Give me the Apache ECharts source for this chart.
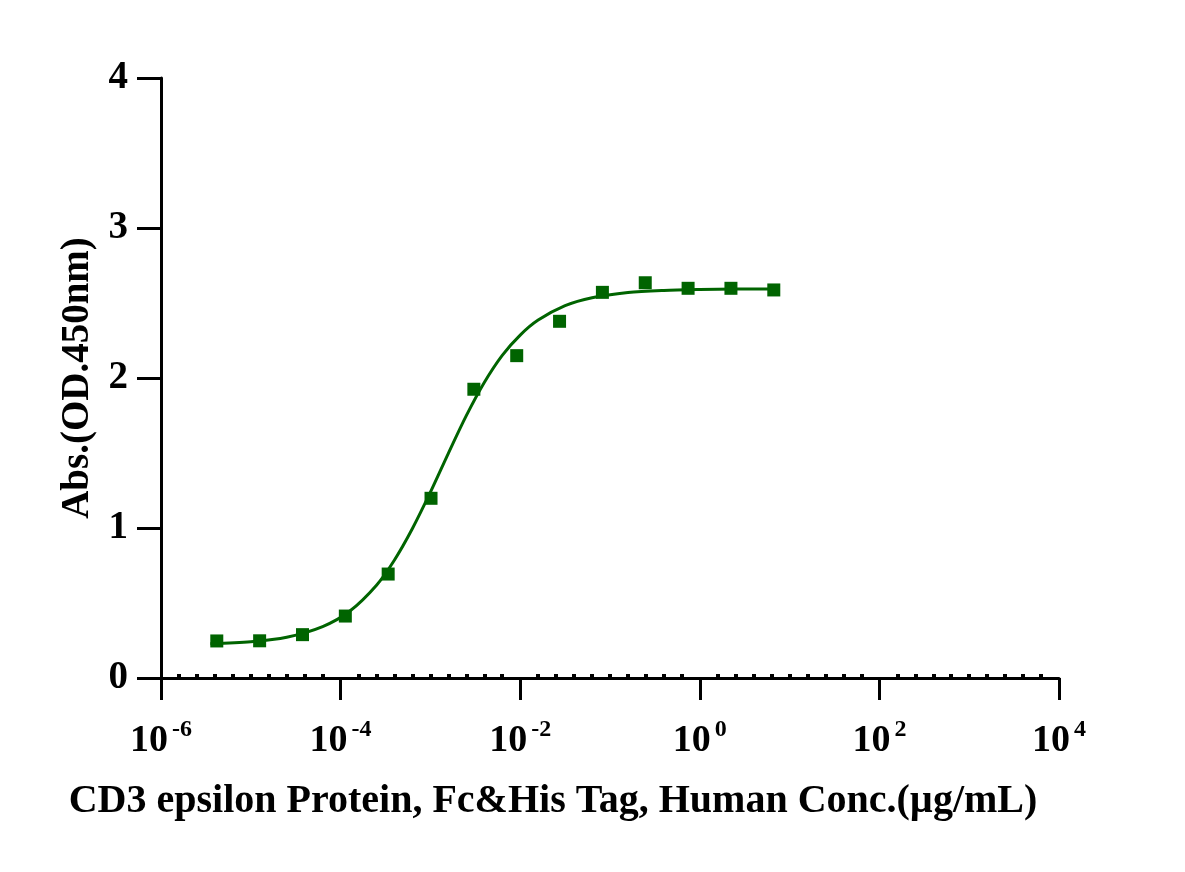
<!DOCTYPE html>
<html>
    <head>
        <meta charset="utf-8">
        <title>CD3 epsilon ELISA</title>
        <script src="https://cdn.jsdelivr.net/npm/echarts@6/dist/echarts.min.js"></script>
    </head>
    <body style="margin:0">
        <style>
            html, body, #main {
                width: 100%;
                height: 100%;
                background: #fff;
            }
        </style>
        <div id="main"></div>
        <script>
            // measured points: concentration (ug/mL) and OD450
            var conc = [4.181e-6, 1.254e-5, 3.763e-5, 1.129e-4, 3.387e-4, 1.016e-3, 3.048e-3,
                        9.145e-3, 2.743e-2, 8.230e-2, 0.2469, 0.7407, 2.222, 6.667];
            var od = [0.247, 0.248, 0.289, 0.413, 0.693, 1.198, 1.925,
                      2.149, 2.378, 2.571, 2.635, 2.598, 2.598, 2.587];

            // fitted curve, x in log10(ug/mL)
            var curveLog = [-5.45, -5.0, -4.6, -4.2, -3.9, -3.6, -3.4, -3.2, -3.0, -2.8, -2.6,
                            -2.4, -2.2, -2.0, -1.8, -1.5, -1.2, -0.8, -0.4, 0.0, 0.4, 0.88];
            var curveVal = [0.228, 0.242, 0.272, 0.343, 0.445, 0.619, 0.787, 0.997, 1.239, 1.498, 1.749,
                            1.970, 2.151, 2.286, 2.386, 2.482, 2.535, 2.570, 2.584, 2.590, 2.593, 2.594];

            var yTicks = [0, 1, 2, 3, 4];
            var xExponents = [-6, -4, -2, 0, 2, 4];

            var green = '#006400';
            var font = '"Liberation Serif", "Times New Roman", serif';

            var points = conc.map(function (c, i) { return [Math.log10(c), od[i]]; });
            var curve = curveLog.map(function (x, i) { return [x, curveVal[i]]; });

            var xMin = xExponents[0];
            var xMax = xExponents[xExponents.length - 1];

            var chart = echarts.init(document.getElementById('main'));

            chart.setOption({
                animation: false,
                grid: { left: 161, right: 126, top: 78, bottom: 194 },
                xAxis: [
                    {
                        type: 'value',
                        min: xMin,
                        max: xMax,
                        interval: 2,
                        splitLine: { show: false },
                        axisLine: { onZero: false, lineStyle: { color: '#000', width: 3 } },
                        axisTick: { length: 22, lineStyle: { color: '#000', width: 3 } },
                        axisLabel: {
                            margin: 40,
                            formatter: function (v) { return '{b|10}{s|' + v + '}'; },
                            rich: {
                                b: { fontFamily: font, fontWeight: 'bold', fontSize: 38, color: '#000' },
                                s: { fontFamily: font, fontWeight: 'bold', fontSize: 24, color: '#000',
                                     verticalAlign: 'top', padding: [0, 0, 22, 4] }
                            }
                        },
                        name: 'CD3 epsilon Protein, Fc&His Tag, Human Conc.(\u00b5g/mL)',
                        nameLocation: 'middle',
                        nameGap: 104,
                        nameTextStyle: { fontFamily: font, fontWeight: 'bold', fontSize: 40, color: '#000',
                                         padding: [0, 114, 0, 0] }
                    },
                    {
                        // only carries the small dot ticks sitting on the axis line
                        type: 'value',
                        position: 'bottom',
                        min: xMin,
                        max: xMax,
                        interval: 2,
                        splitLine: { show: false },
                        axisLine: { show: false, onZero: false },
                        axisTick: { show: false, inside: true },
                        axisLabel: { show: false },
                        minorTick: { show: true, splitNumber: 10, length: 4, lineStyle: { color: '#000', width: 4 } }
                    }
                ],
                yAxis: {
                    type: 'value',
                    min: yTicks[0],
                    max: yTicks[yTicks.length - 1],
                    interval: 1,
                    splitLine: { show: false },
                    axisLine: { show: true, onZero: false, lineStyle: { color: '#000', width: 3 } },
                    axisTick: { show: true, length: 24, lineStyle: { color: '#000', width: 3 } },
                    axisLabel: { margin: 33, fontFamily: font, fontWeight: 'bold', fontSize: 39, color: '#000' },
                    name: 'Abs.(OD.450nm)',
                    nameLocation: 'middle',
                    nameGap: 63,
                    nameTextStyle: { fontFamily: font, fontWeight: 'bold', fontSize: 39, color: '#000' }
                },
                series: [
                    {
                        type: 'line',
                        data: curve,
                        smooth: 0.3,
                        showSymbol: false,
                        lineStyle: { color: green, width: 3 },
                        z: 2
                    },
                    {
                        type: 'scatter',
                        data: points,
                        symbol: 'rect',
                        symbolSize: 13,
                        itemStyle: { color: green, opacity: 1 },
                        z: 3
                    }
                ]
            });

            window.addEventListener('resize', function () {
                chart.resize();
            });
        </script>
    </body>
</html>
